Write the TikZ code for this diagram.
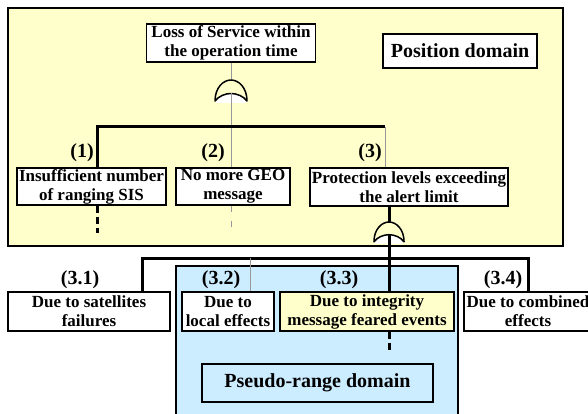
\documentclass[tikz,border=0pt]{standalone}
\usepackage{fontspec}
\setmainfont{Liberation Serif}
\definecolor{posyellow}{RGB}{255,255,204}
\definecolor{prblue}{RGB}{204,236,255}
\begin{document}
\begin{tikzpicture}[x=1pt,y=-1pt,
  box/.style={draw, line width=1.4pt, fill=white, inner sep=0pt, align=center,
    font=\bfseries\fontsize{17}{19}\selectfont},
  dombox/.style={box, font=\bfseries\fontsize{20}{22}\selectfont},
  lbl/.style={inner sep=0pt, font=\bfseries\fontsize{20}{20}\selectfont},
  thickln/.style={line width=3pt},
  thinln/.style={line width=0.6pt, black!40},
  thickdash/.style={line width=3pt, dash pattern=on 7pt off 4pt},
  thindash/.style={line width=0.6pt, black!40, dash pattern=on 6pt off 9pt},
  gate/.pic={
    \fill[white] (-15,21) .. controls (-8,11) and (8,11) .. (15,21) -- (15,23) -- (-15,23) -- cycle;
    \draw[line width=1.5pt, fill=posyellow, line join=round]
      (-16,21) .. controls (-16,8) and (-8,0) .. (0,0)
      .. controls (8,0) and (16,8) .. (16,21)
      .. controls (8,11) and (-8,11) .. (-16,21) -- cycle;
  }
]
\useasboundingbox (0,0) rectangle (588,414);
\clip (0,0) rectangle (588,414);

% domain backgrounds
\draw[line width=1.6pt, fill=posyellow] (8,8) rectangle (563,246);
\draw[line width=1.4pt, fill=prblue] (176,266) rectangle (458,430);

% nodes
\node[box, minimum width=169pt, minimum height=38pt] (top) at (231,43) {Loss of Service within\\the operation time};
\node[dombox, minimum width=154pt, minimum height=34pt] (pos) at (460,51) {Position domain};
\node[box, minimum width=149pt, minimum height=37pt] (b1) at (91.5,186.5) {Insufficient number\\of ranging SIS};
\node[box, minimum width=114pt, minimum height=37pt] (b2) at (233,186.5) {No more GEO\\message};
\node[box, minimum width=198pt, minimum height=38pt] (b3) at (409,187) {Protection levels exceeding\\the alert limit};

\node[box, minimum width=162pt, minimum height=39pt] (b31) at (89,311.5) {Due to satellites\\failures};
\node[box, minimum width=92pt, minimum height=39pt] (b32) at (228,311.5) {Due to\\local effects};
\node[box, fill=posyellow, minimum width=174pt, minimum height=39pt] (b33) at (367,311.5) {Due to integrity\\message feared events};
\node[box, minimum width=128pt, minimum height=39pt] (b34) at (528,311.5) {Due to combined\\effects};
\node[dombox, fill=prblue, minimum width=231pt, minimum height=38pt] (pr) at (317.5,383) {Pseudo-range domain};

% coordinates
\coordinate (g1) at (231,80);
\coordinate (g1b) at (231,93);
\coordinate (bar1L) at (97,127);
\coordinate (bar1R) at (385,127);
\coordinate (g2) at (389,222);
\coordinate (g2b) at (389,235);
\coordinate (bar2L) at (142,258);
\coordinate (bar2R) at (528,258);
\coordinate (bar2M) at (250,258);

% upper connectors
\draw[thinln] (top.south -| g1) -- (g1);
\draw[thinln] (g1b) -- (b2.north -| g1);
\draw[thindash] (b2.south -| g1) -- ++(0,21);
\draw[thickln] (b1.north -| bar1L) -- (bar1L) -- (bar1R);
\draw[thinln] (bar1R) -- (b3.north -| bar1R);
\draw[thickdash] (b1.south -| bar1L) -- ++(0,27);
\draw[thickln] (b3.south -| g2) -- (g2);

% lower connectors
\draw[thickln] (b31.north -| bar2L) -- (bar2L) -- (bar2R) -- (b34.north -| bar2R);
\draw[thinln] (bar2M) -- (b32.north -| bar2M);
\draw[thickln] (g2b) -- (b33.north -| g2);
\draw[thickdash] (b33.south -| g2) -- ++(0,20);

% gates
\pic at (g1) {gate};
\pic[scale=0.94] at (g2) {gate};
\draw[thinln] (g1b) -- ++(0,10);
\draw[thickln] (g2b) -- ++(0,10);

% labels
\node[lbl] (l1) at (82,153) {(1)};
\node[lbl] (l2) at (213,153) {(2)};
\node[lbl] (l3) at (370,153) {(3)};
\node[lbl] (l31) at (80,280) {(3.1)};
\node[lbl] (l32) at (221,280) {(3.2)};
\node[lbl] (l33) at (339,280) {(3.3)};
\node[lbl] (l34) at (503,280) {(3.4)};
\end{tikzpicture}
\end{document}
